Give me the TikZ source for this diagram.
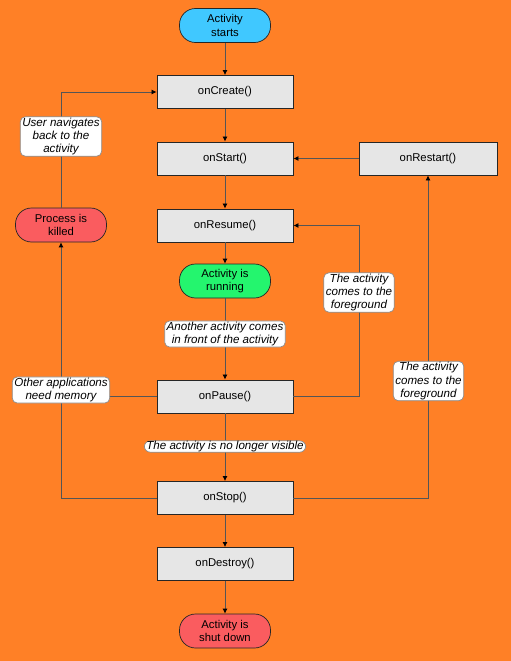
\documentclass[tikz,border=0pt]{standalone}
\usepackage{fontspec}
\setmainfont{Liberation Sans}
\usetikzlibrary{arrows.meta}
\definecolor{bgorange}{RGB}{255,128,38}
\definecolor{boxgray}{RGB}{230,230,230}
\definecolor{startblue}{RGB}{64,200,255}
\definecolor{rungreen}{RGB}{36,245,110}
\definecolor{killred}{RGB}{250,92,95}
\definecolor{linegray}{RGB}{85,85,85}
\definecolor{lblborder}{RGB}{140,140,140}
\tikzset{
  x=1pt, y=-1pt,
  callbox/.style={draw=black!85, line width=0.9pt, fill=boxgray, minimum width=136pt, minimum height=33pt, inner sep=0pt, font=\fontsize{11.3}{13.3}\selectfont},
  pill/.style={draw=black!85, line width=0.7pt, rounded corners=16pt, minimum width=91pt, minimum height=34pt, inner sep=0pt, align=center, font=\fontsize{11.3}{13.3}\selectfont},
  lbl/.style={draw=lblborder, line width=0.7pt, fill=white, rounded corners=5pt, align=center, inner xsep=2pt, inner ysep=1pt, font=\fontsize{11.6}{13.3}\selectfont\itshape},
  conn/.style={draw=linegray, line width=0.8pt},
  arr/.style={conn, -{Latex[length=5pt,width=5pt,black]}},
}
\begin{document}
\begin{tikzpicture}
\fill[bgorange] (0,0) rectangle (511,661);
\useasboundingbox (0,0) rectangle (511,661);

\node[pill, fill=startblue] (start) at (225,25.5) {Activity\\starts};
\node[callbox] (create) at (225,92) {onCreate()};
\node[callbox] (onstart) at (225,158.5) {onStart()};
\node[callbox, minimum width=138pt] (restart) at (428,158.5) {onRestart()};
\node[callbox] (resume) at (225,225.5) {onResume()};
\node[pill, fill=rungreen] (running) at (225,281) {Activity is\\running};
\node[callbox] (pause) at (225,396.5) {onPause()};
\node[callbox] (stop) at (225,498) {onStop()};
\node[callbox] (destroy) at (225,564) {onDestroy()};
\node[pill, fill=killred] (shut) at (225,631) {Activity is\\shut down};
\node[pill, fill=killred] (killed) at (61,225) {Process is\\killed};

\coordinate (fgturn) at (359,225.5);

\draw[arr] (start) -- (create);
\draw[arr] (create) -- (onstart);
\draw[arr] (onstart) -- (resume);
\draw[arr] (resume) -- (running);
\draw[arr] (running) -- (pause);
\draw[arr] (pause) -- (stop);
\draw[arr] (stop) -- (destroy);
\draw[arr] (destroy) -- (shut);
\draw[arr] (restart) -- (onstart);
\draw[arr] (pause.east) -| (fgturn) -- (resume.east);
\draw[arr] (stop.east) -| (restart.south);
\draw[arr] (stop.west) -| (killed.south);
\draw[conn] (pause.west) -- (pause.west -| killed.south);
\draw[arr] (killed.north) |- (create.west);

\node[lbl] (lback) at (61,136.5) {User navigates\\back to the\\activity};
\node[lbl] (lmem) at (61,390) {Other applications\\need memory};
\node[lbl] (lfront) at (225,334) {Another activity comes\\in front of the activity};
\node[lbl] (lfg1) at (359,292.5) {The activity\\comes to the\\foreground};
\node[lbl] (lfg2) at (428.5,381) {The activity\\comes to the\\foreground};
\node[lbl, rounded corners=6pt, inner ysep=0.3pt] (lvis) at (225,446.5) {The activity is no longer visible};
\end{tikzpicture}
\end{document}
